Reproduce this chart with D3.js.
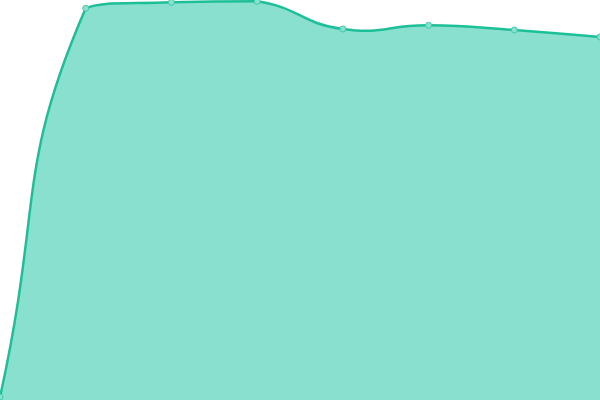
<!DOCTYPE html>
<html><head><meta charset="utf-8">
<script src="https://cdn.jsdelivr.net/npm/d3@7"></script>
<style>html,body{margin:0;padding:0;background:#fff;}svg{display:block;}</style>
</head><body>
<svg id="c" width="600" height="400"></svg>
<script>
const categories = ["A","B","C","D","E","F","G","H"];
const values = [3, 391.7, 397.7, 398.7, 371, 374.7, 370, 363];

const W = 600, H = 400;
const svg = d3.select("#c");
const x = d3.scalePoint().domain(categories).range([0, W]);
const y = d3.scaleLinear().domain([0, 400]).range([H, 0]);
const data = categories.map((c, i) => ({c, v: values[i]}));

// Bezier smoothing with control points constrained to the points' bounding box
function SmoothBezier(context) { this._context = context; }
SmoothBezier.prototype = {
  areaStart() { this._line = 0; },
  areaEnd() { this._line = NaN; },
  lineStart() { this._pts = []; },
  point(px, py) { this._pts.push([+px, +py]); },
  lineEnd() {
    const ctx = this._context, p = this._pts, n = p.length, s = 0.5;
    if (n) {
      const minX = d3.min(p, d => d[0]), maxX = d3.max(p, d => d[0]);
      const minY = d3.min(p, d => d[1]), maxY = d3.max(p, d => d[1]);
      const cl = (q) => [Math.max(minX, Math.min(maxX, q[0])), Math.max(minY, Math.min(maxY, q[1]))];
      const cpIn = [], cpOut = [];
      for (let i = 0; i < n; i++) {
        const pt = p[i], prev = p[i - 1] || pt, next = p[i + 1] || pt;
        const vx = (next[0] - prev[0]) * s, vy = (next[1] - prev[1]) * s;
        let d0 = Math.hypot(pt[0] - prev[0], pt[1] - prev[1]);
        let d1 = Math.hypot(pt[0] - next[0], pt[1] - next[1]);
        const sum = d0 + d1;
        if (sum) { d0 /= sum; d1 /= sum; }
        cpIn.push(cl([pt[0] - vx * d0, pt[1] - vy * d0]));
        cpOut.push(cl([pt[0] + vx * d1, pt[1] + vy * d1]));
      }
      if (this._line) ctx.lineTo(p[0][0], p[0][1]); else ctx.moveTo(p[0][0], p[0][1]);
      for (let i = 1; i < n; i++) {
        ctx.bezierCurveTo(cpOut[i - 1][0], cpOut[i - 1][1], cpIn[i][0], cpIn[i][1], p[i][0], p[i][1]);
      }
    }
    if (this._line || (this._line !== 0 && n === 1)) ctx.closePath();
    this._line = 1 - this._line;
  }
};
const curve = ctx => new SmoothBezier(ctx);

svg.append("path").datum(data)
  .attr("d", d3.area().x(d => x(d.c)).y0(y(0)).y1(d => y(d.v)).curve(curve))
  .attr("fill", "#89e0cf");
svg.append("path").datum(data)
  .attr("d", d3.line().x(d => x(d.c)).y(d => y(d.v)).curve(curve))
  .attr("fill", "none").attr("stroke", "#1dbf98").attr("stroke-width", 2.5);
svg.selectAll("circle").data(data).join("circle")
  .attr("cx", d => x(d.c)).attr("cy", d => y(d.v)).attr("r", 3)
  .attr("fill", "#89e0cf").attr("stroke", "#3fcaa8").attr("stroke-width", 1);
</script>
</body></html>
